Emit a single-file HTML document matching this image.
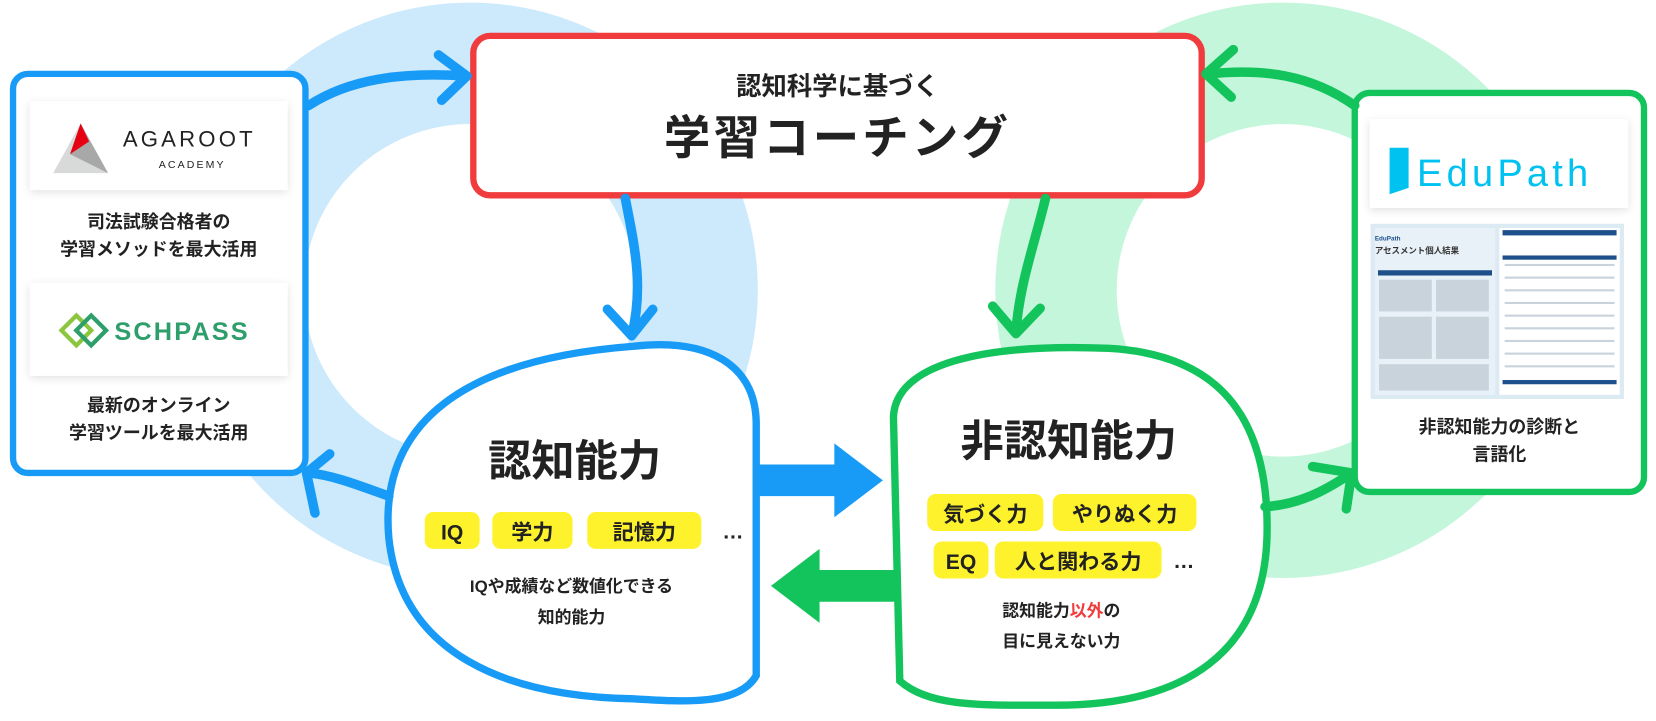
<!DOCTYPE html>
<html><head><meta charset="utf-8"><style>
body{margin:0;background:#fff;width:1656px;height:721px;overflow:hidden}
text{font-family:"Liberation Sans","Noto Sans CJK JP",sans-serif;font-weight:700;fill:#222}
</style></head><body>
<svg width="1656" height="721" viewBox="0 0 1568 683" xmlns="http://www.w3.org/2000/svg" style="display:block">
<defs>
<filter id="sh" x="-10%" y="-10%" width="120%" height="130%"><feDropShadow dx="0" dy="2" stdDeviation="4" flood-color="#000" flood-opacity="0.12"/></filter>
</defs>
<circle cx="445" cy="275" r="215" fill="none" stroke="#cde9fc" stroke-width="115"/>
<circle cx="1215" cy="275" r="215" fill="none" stroke="#c3f6db" stroke-width="115"/>

<!-- left box -->
<rect x="12" y="70" width="277" height="378" rx="14" fill="#fff" stroke="#189bf6" stroke-width="6"/>
<rect x="28" y="96" width="244" height="84" fill="#fff" filter="url(#sh)"/>
<polygon points="50,164 76,117 102,164" fill="#d8d9d9"/>
<polygon points="66,146 76,117 102,164" fill="#a8a8a8"/>
<polygon points="66,146 76,117 84,134" fill="#e60012"/>
<text x="116" y="139" font-size="21" style="font-weight:400;letter-spacing:3px" fill="#333">AGAROOT</text>
<text x="150" y="159" font-size="10" style="font-weight:400;letter-spacing:2px" fill="#444">ACADEMY</text>
<text x="150" y="216" font-size="17" text-anchor="middle">司法試験合格者の</text>
<text x="150" y="242" font-size="17" text-anchor="middle">学習メソッドを最大活用</text>
<rect x="28" y="268" width="244" height="88" fill="#fff" filter="url(#sh)"/>
<g fill="none" stroke-width="4"><rect x="62" y="303" width="20" height="20" transform="rotate(45 72 313)" stroke="#8cc63f"/><rect x="76" y="303" width="20" height="20" transform="rotate(45 86 313)" stroke="#2e9e6a"/></g>
<text x="108" y="322" font-size="24" style="fill:#2e9e6a;letter-spacing:2px">SCHPASS</text>
<text x="150" y="390" font-size="17" text-anchor="middle">最新のオンライン</text>
<text x="150" y="416" font-size="17" text-anchor="middle">学習ツールを最大活用</text>

<!-- red box -->
<rect x="448" y="34" width="690" height="151" rx="16" fill="#fff" stroke="#f03c3c" stroke-width="6"/>
<text x="793" y="90" font-size="24" text-anchor="middle">認知科学に基づく</text>
<text x="793" y="146" font-size="44" text-anchor="middle" style="letter-spacing:3px">学習コーチング</text>

<!-- right box -->
<rect x="1283" y="88" width="274" height="378" rx="14" fill="#fff" stroke="#13c45c" stroke-width="6"/>
<rect x="1297" y="113" width="245" height="84" fill="#fff" filter="url(#sh)"/>
<polygon points="1316,140 1334,140 1334,178 1316,184" fill="#00c2f0"/>
<text x="1342" y="176" font-size="36" style="font-weight:400;fill:#00c2f0;letter-spacing:4px">EduPath</text>
<rect x="1298" y="212" width="240" height="166" fill="#dceaf4"/>
<rect x="1302" y="216" width="114" height="158" fill="#e8f1f8"/>
<rect x="1420" y="216" width="114" height="158" fill="#fff"/>
<rect x="1305" y="256" width="108" height="5" fill="#1d4f8a"/>
<rect x="1423" y="218" width="108" height="5" fill="#1d4f8a"/>
<rect x="1423" y="242" width="108" height="4" fill="#1d4f8a"/>
<rect x="1423" y="360" width="108" height="4" fill="#1d4f8a"/>
<g fill="#c8d3dc">
<rect x="1306" y="265" width="50" height="30"/><rect x="1360" y="265" width="50" height="30"/>
<rect x="1306" y="300" width="50" height="40"/><rect x="1360" y="300" width="50" height="40"/>
<rect x="1306" y="345" width="104" height="25"/>
<rect x="1425" y="250" width="104" height="2"/><rect x="1425" y="262" width="104" height="2"/><rect x="1425" y="274" width="104" height="2"/><rect x="1425" y="286" width="104" height="2"/><rect x="1425" y="298" width="104" height="2"/><rect x="1425" y="310" width="104" height="2"/><rect x="1425" y="322" width="104" height="2"/><rect x="1425" y="334" width="104" height="2"/><rect x="1425" y="346" width="104" height="2"/>
</g>
<text x="1302" y="228" font-size="6" style="fill:#1d4f8a">EduPath</text>
<text x="1302" y="240" font-size="8" style="fill:#333">アセスメント個人結果</text>
<text x="1420" y="410" font-size="17" text-anchor="middle">非認知能力の診断と</text>
<text x="1420" y="436" font-size="17" text-anchor="middle">言語化</text>

<!-- blobs -->
<path d="M600,328 C670,320 715,345 716,400 L716,640 C700,668 650,665 600,662 C480,660 380,620 368,510 C358,400 440,340 600,328 Z" fill="#fff" stroke="#189bf6" stroke-width="7"/>
<path d="M1050,330 C1140,335 1200,380 1200,500 C1200,620 1120,668 1000,668 C930,668 880,670 852,645 L846,395 C848,345 930,325 1050,330 Z" fill="#fff" stroke="#13c45c" stroke-width="7"/>

<text x="544" y="451" font-size="41" text-anchor="middle">認知能力</text>
<g font-size="20">
<rect x="402" y="485" width="52" height="35" rx="8" fill="#fdf22c"/><text x="428" y="511" text-anchor="middle">IQ</text>
<rect x="466" y="485" width="76" height="35" rx="8" fill="#fdf22c"/><text x="504" y="511" text-anchor="middle">学力</text>
<rect x="556" y="485" width="108" height="35" rx="8" fill="#fdf22c"/><text x="610" y="511" text-anchor="middle">記憶力</text>
<text x="694" y="510" text-anchor="middle">…</text>
</g>
<text x="541" y="561" font-size="16" text-anchor="middle">IQや成績など数値化できる</text>
<text x="541" y="590" font-size="16" text-anchor="middle">知的能力</text>

<text x="1012" y="432" font-size="41" text-anchor="middle">非認知能力</text>
<g font-size="20">
<rect x="878" y="468" width="110" height="35" rx="8" fill="#fdf22c"/><text x="933" y="494" text-anchor="middle">気づく力</text>
<rect x="997" y="468" width="136" height="35" rx="8" fill="#fdf22c"/><text x="1065" y="494" text-anchor="middle">やりぬく力</text>
<rect x="884" y="513" width="52" height="35" rx="8" fill="#fdf22c"/><text x="910" y="539" text-anchor="middle">EQ</text>
<rect x="942" y="513" width="158" height="35" rx="8" fill="#fdf22c"/><text x="1021" y="539" text-anchor="middle">人と関わる力</text>
<text x="1121" y="538" text-anchor="middle">…</text>
</g>
<text x="1005" y="584" font-size="16" text-anchor="middle">認知能力<tspan style="fill:#f03c3c">以外</tspan>の</text>
<text x="1005" y="613" font-size="16" text-anchor="middle">目に見えない力</text>

<polygon points="716,440 790,440 790,420 836,455 790,490 790,470 716,470" fill="#189bf6"/>
<polygon points="848,540 776,540 776,520 730,555 776,590 776,570 848,570" fill="#13c45c"/>

<g fill="none" stroke-width="9" stroke-linecap="round" stroke-linejoin="round">
<g stroke="#189bf6">
<path d="M292,100 C330,75 380,68 440,72"/><path d="M415,52 L442,72 L418,95"/>
<path d="M592,188 C600,230 610,270 598,318"/><path d="M575,293 L598,318 L618,293"/>
<path d="M368,470 C340,460 315,450 292,448"/><path d="M312,430 L290,448 L298,486"/>
</g>
<g stroke="#13c45c">
<path d="M1283,100 C1240,70 1195,65 1145,70"/><path d="M1168,47 L1142,70 L1166,92"/>
<path d="M990,188 C980,230 965,270 962,315"/><path d="M940,290 L962,316 L985,292"/>
<path d="M1198,480 C1230,478 1255,465 1280,448"/><path d="M1243,442 L1280,448 L1275,482"/>
</g>
</g>
</svg>
</body></html>
